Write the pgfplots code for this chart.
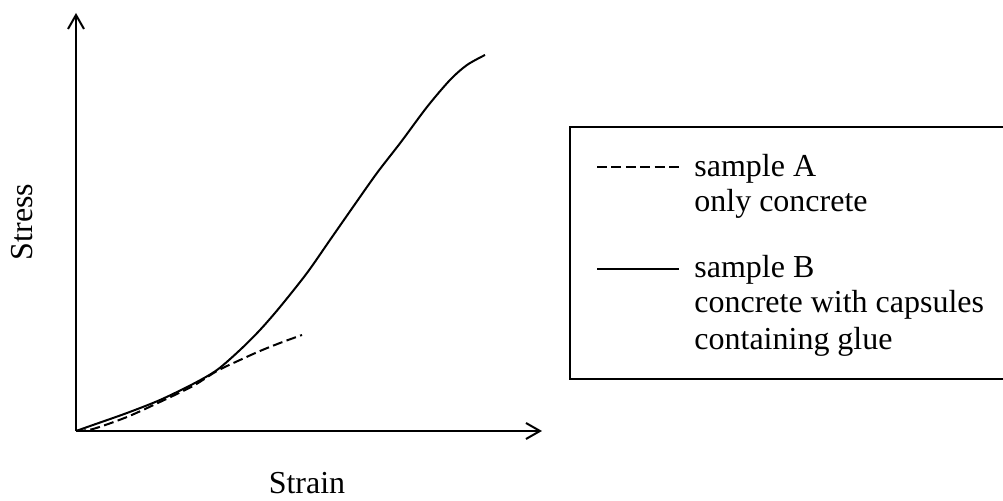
\documentclass[border=0pt]{standalone}
\usepackage{fontspec}
\setmainfont{Liberation Serif}
\usepackage{pgfplots}
\pgfplotsset{compat=1.18}
\usetikzlibrary{arrows.meta}

\begin{document}
\fontsize{16}{19}\selectfont
\begin{tikzpicture}

% 1 px of the reference = 0.5pt, axis origin at px (76,431)
\begin{axis}[
	x=0.5pt, y=0.5pt,
	xmin=0, xmax=466,
	ymin=0, ymax=418,
	axis lines=left,
	axis line style={line width=1.2pt, -{Straight Barb[length=7pt,width=8pt,line width=1pt]}},
	xtick=\empty, ytick=\empty,
	clip=false,
	]

	% sample A: only concrete
	\addplot [
	smooth,
	line width=1pt,
	dash pattern=on 5pt off 2.2pt,
	] coordinates {
	(0,0) (17,2) (51,14) (84,29) (117,45) (141,60)
	(164,71) (184,80) (204,88) (226,96)
	};

	% sample B: concrete with capsules containing glue
	\addplot [
	smooth,
	line width=1pt,
	] coordinates {
	(0,0) (17,6) (51,18) (84,31) (117,47) (141,61) (164,81)
	(184,101) (204,124) (231,158) (254,191) (277,224) (301,258)
	(325,289) (351,324) (374,351) (391,366) (409,376)
	};

	% axis titles
	\node at (axis cs: 231, -52) {Strain};
	\node[rotate=90] at (axis cs: -54, 209) {Stress};

	% legend box (right edge runs off the page)
	\draw[line width=0.7pt] (axis cs: 940, 304) -- (axis cs: 494, 304)
		-- (axis cs: 494, 52) -- (axis cs: 940, 52);
	\draw[line width=1pt, dash pattern=on 5pt off 2.2pt]
		(axis cs: 521, 264) -- (axis cs: 603, 264);
	\draw[line width=1pt] (axis cs: 521, 162) -- (axis cs: 603, 162);
	\node[anchor=base west, inner sep=0pt] at (axis cs: 618, 254) {sample A};
	\node[anchor=base west, inner sep=0pt] at (axis cs: 618, 219) {only concrete};
	\node[anchor=base west, inner sep=0pt] at (axis cs: 618, 153) {sample B};
	\node[anchor=base west, inner sep=0pt] at (axis cs: 618, 118) {concrete with capsules};
	\node[anchor=base west, inner sep=0pt] at (axis cs: 618, 81) {containing glue};

	\coordinate (bl) at (axis cs: -76, -70);
	\coordinate (tr) at (axis cs: 927, 431);
\end{axis}

\pgfresetboundingbox
\path[use as bounding box] (bl) rectangle (tr);
\end{tikzpicture}
\end{document}
